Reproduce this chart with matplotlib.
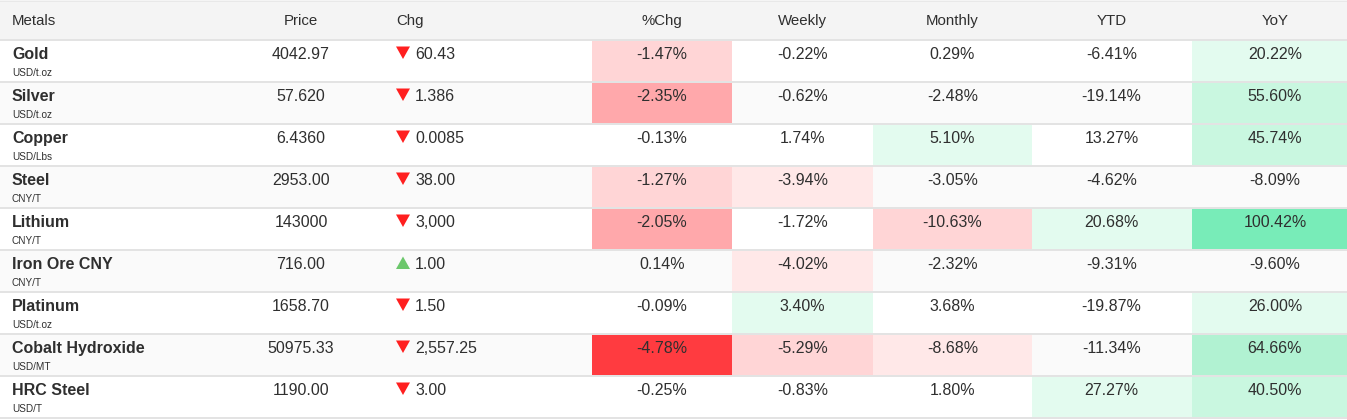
import matplotlib
matplotlib.use("Agg")
import matplotlib.pyplot as plt
from matplotlib.patches import Rectangle, Polygon

# ---------------- data ----------------
headers = ["Metals", "Price", "Chg", "%Chg", "Weekly", "Monthly", "YTD", "YoY"]
metals = ["Gold", "Silver", "Copper", "Steel", "Lithium", "Iron Ore CNY",
          "Platinum", "Cobalt Hydroxide", "HRC Steel"]
units = ["USD/t.oz", "USD/t.oz", "USD/Lbs", "CNY/T", "CNY/T", "CNY/T",
         "USD/t.oz", "USD/MT", "USD/T"]
price = ["4042.97", "57.620", "6.4360", "2953.00", "143000", "716.00",
         "1658.70", "50975.33", "1190.00"]
chg = ["60.43", "1.386", "0.0085", "38.00", "3,000", "1.00", "1.50",
       "2,557.25", "3.00"]
chg_dir = [-1, -1, -1, -1, -1, 1, -1, -1, -1]
pct_chg = [-1.47, -2.35, -0.13, -1.27, -2.05, 0.14, -0.09, -4.78, -0.25]
weekly = [-0.22, -0.62, 1.74, -3.94, -1.72, -4.02, 3.40, -5.29, -0.83]
monthly = [0.29, -2.48, 5.10, -3.05, -10.63, -2.32, 3.68, -8.68, 1.80]
ytd = [-6.41, -19.14, 13.27, -4.62, 20.68, -9.31, -19.87, -11.34, 27.27]
yoy = [20.22, 55.60, 45.74, -8.09, 100.42, -9.60, 26.00, 64.66, 40.50]

# ---------------- style ----------------
W, H = 1347, 420
FONT = ["Liberation Sans", "DejaVu Sans"]
TXT = "#2f2f2f"
HEADER_BG = "#f4f4f4"
STRIPE = "#fafafa"
LINE = "#e3e3e3"
RED = ["#ffe8e8", "#ffd5d6", "#ffa8ab", "#ff3b40"]
GREEN = ["#e3fbef", "#c9f7e0", "#b1f2d2", "#78ecb8"]
thresholds = {
    "%Chg": [0.5, 1, 2, 4],
    "Weekly": [2.5, 5, 10, 20],
    "Monthly": [5, 10, 20, 40],
    "YTD": [20, 40, 60, 100],
    "YoY": [20, 40, 60, 100],
}
pct_cols = [("%Chg", pct_chg, 592, 732, 662),
            ("Weekly", weekly, 732, 873, 802.5),
            ("Monthly", monthly, 873, 1032, 952.5),
            ("YTD", ytd, 1032, 1192, 1111.5),
            ("YoY", yoy, 1192, 1347, 1275)]

HEADER_H = 40
ROW_H = 42
VAL_PX = 16
HDR_PX = 15
UNIT_PX = 10
px = lambda p: p * 72 / 100.0


def cell_color(col, v):
    th = thresholds[col]
    lvl = sum(1 for t in th if abs(v) >= t)
    if lvl == 0:
        return None
    return (GREEN if v > 0 else RED)[lvl - 1]


fig = plt.figure(figsize=(W / 100, H / 100), dpi=100)
ax = fig.add_axes([0, 0, 1, 1])
ax.set_xlim(0, W)
ax.set_ylim(H, 0)
ax.axis("off")

# header
ax.add_patch(Rectangle((0, 0), W, HEADER_H, facecolor=HEADER_BG, edgecolor="none"))
ax.plot([0, W], [0.5, 0.5], color="#e8e8e8", lw=px(1))
hy = 25
ax.text(12, hy, headers[0], fontsize=px(HDR_PX), family=FONT, color=TXT, va="baseline", ha="left")
ax.text(301, hy, headers[1], fontsize=px(HDR_PX), family=FONT, color=TXT, va="baseline", ha="center")
ax.text(396, hy, headers[2], fontsize=px(HDR_PX), family=FONT, color=TXT, va="baseline", ha="left")
for name, _, x0, x1, xc in pct_cols:
    ax.text(xc, hy, name, fontsize=px(HDR_PX), family=FONT, color=TXT, va="baseline", ha="center")

for i, m in enumerate(metals):
    top = HEADER_H + ROW_H * i
    if i % 2 == 1:
        ax.add_patch(Rectangle((0, top), W, ROW_H, facecolor=STRIPE, edgecolor="none"))
    # coloured cells
    for name, vals, x0, x1, xc in pct_cols:
        c = cell_color(name, vals[i])
        if c:
            ax.add_patch(Rectangle((x0, top), x1 - x0, ROW_H, facecolor=c, edgecolor="none"))
    base = top + 19
    ax.text(12, base, m, fontsize=px(VAL_PX), family=FONT, weight="bold", color=TXT,
            va="baseline", ha="left")
    ax.text(12, top + 36.5, units[i], fontsize=px(UNIT_PX), family=FONT, color=TXT,
            va="baseline", ha="left")
    ax.text(301, base, price[i], fontsize=px(VAL_PX), family=FONT, color=TXT,
            va="baseline", ha="center")
    # arrow
    if chg_dir[i] < 0:
        tri = [(396, top + 6.5), (410, top + 6.5), (403, top + 19)]
        tc = "#ff1f1f"
    else:
        tri = [(396, top + 19), (410, top + 19), (403, top + 6.5)]
        tc = "#6cc76c"
    ax.add_patch(Polygon(tri, closed=True, facecolor=tc, edgecolor="none"))
    ax.text(415, base, chg[i], fontsize=px(VAL_PX), family=FONT, color=TXT,
            va="baseline", ha="left")
    for name, vals, x0, x1, xc in pct_cols:
        ax.text(xc, base, f"{vals[i]:.2f}%", fontsize=px(VAL_PX), family=FONT, color=TXT,
                va="baseline", ha="center")

# row lines
for i in range(len(metals) + 1):
    y = HEADER_H + ROW_H * i
    ax.plot([0, W], [y, y], color=LINE, lw=px(2), solid_capstyle="butt")

fig.savefig("out.png", dpi=100)
